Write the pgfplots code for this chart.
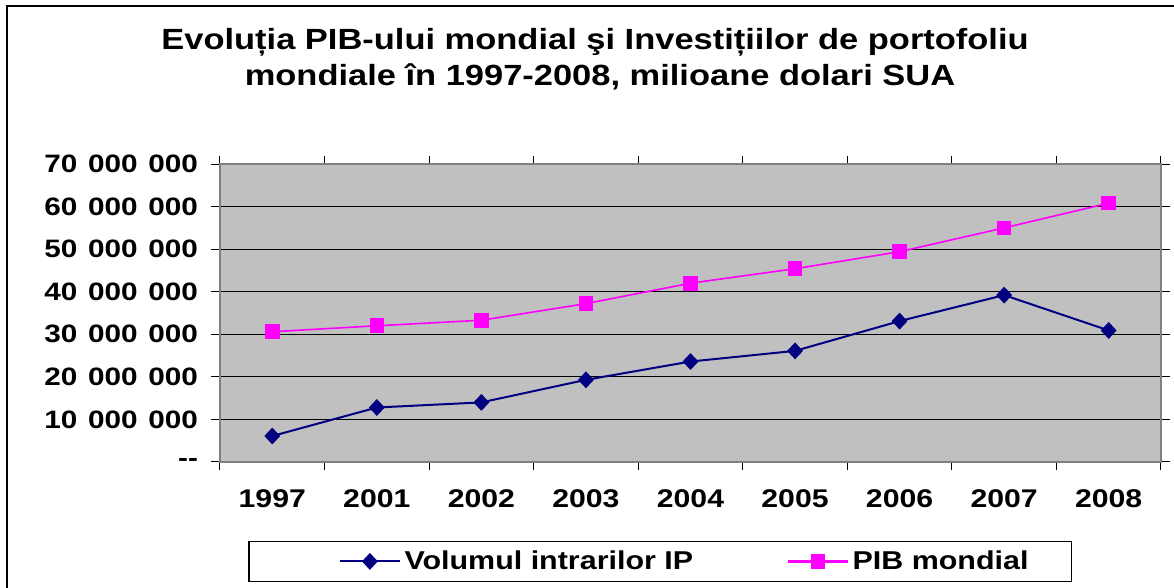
\documentclass[border=0pt]{standalone}
\usepackage{fontspec}
\setmainfont{Liberation Sans}[FakeStretch=1.18]
\usepackage{pgfplots}
\pgfplotsset{compat=1.18}
\definecolor{plotbg}{HTML}{C0C0C0}
\definecolor{ipnavy}{HTML}{000080}
\definecolor{pibmag}{HTML}{FF00FF}
\definecolor{axgray}{HTML}{808080}
\newcommand{\gs}{\hspace{0.42em}}
\begin{document}
\begin{tikzpicture}
\useasboundingbox (0,0) rectangle (587pt,294pt);
\draw[line width=1pt] (3.5pt,-20pt) -- (3.5pt,291pt) -- (620pt,291pt);
\node[anchor=base,font=\bfseries\fontsize{14.6}{17}\selectfont,inner sep=0pt] at (297.5pt,269.3pt) {Evoluția PIB-ului mondial şi Investițiilor de portofoliu};
\node[anchor=base,font=\bfseries\fontsize{14.6}{17}\selectfont,inner sep=0pt] at (300pt,251pt) {mondiale în 1997-2008, milioane dolari SUA};
\begin{axis}[
  at={(110pt,63pt)}, anchor=south west,
  scale only axis, width=470.5pt, height=149pt,
  xmin=-0.5, xmax=8.5, ymin=0, ymax=70000000,
  axis background/.style={fill=plotbg},
  axis line style={draw=axgray, line width=1pt},
  xtick={0,1,2,3,4,5,6,7,8},
  xticklabels={1997,2001,2002,2003,2004,2005,2006,2007,2008},
  minor xtick={-0.5,0.5,1.5,2.5,3.5,4.5,5.5,6.5,7.5,8.5},
  major x tick style={draw=none},
  minor x tick style={draw=black, line width=0.5pt},
  minor tick length=4pt,
  ytick={0,10000000,20000000,30000000,40000000,50000000,60000000,70000000},
  yticklabels={{-}{-},10\gs000\gs000,20\gs000\gs000,30\gs000\gs000,40\gs000\gs000,50\gs000\gs000,60\gs000\gs000,70\gs000\gs000},
  ytick style={draw=black, line width=0.5pt},
  major tick length=4.5pt,
  tick align=outside,
  ymajorgrids,
  grid style={black, line width=0.5pt},
  scaled y ticks=false,
  /pgf/number format/assume math mode=true,
  yticklabel style={font=\bfseries\fontsize{12.6}{14}\selectfont, xshift=-3pt},
  xticklabel style={font=\bfseries\fontsize{12.8}{15}\selectfont, yshift=-6pt},
  legend columns=2,
  legend style={at={(0.4676,-0.265)}, anchor=north, draw=black, line width=0.6pt,
    inner xsep=19.5pt, inner ysep=3.5pt,
    font=\bfseries\fontsize{12.9}{15}\selectfont,
    nodes={inner xsep=1.8pt, inner ysep=1pt},
    /tikz/every even column/.append style={column sep=45pt}},
]
\addplot[color=ipnavy, line width=1pt, mark=diamond*, mark size=3.5pt,
  mark options={xscale=1.25, fill=ipnavy, draw=ipnavy},
  legend image code/.code={\path (-25.5pt,0pt);
    \draw[draw=ipnavy, line width=1pt] (0pt,0pt) -- (30pt,0pt);
    \draw[draw=ipnavy, fill=ipnavy, mark options={xscale=1.25, fill=ipnavy, draw=ipnavy}] plot[mark=diamond*, mark size=3.5pt] coordinates {(15pt,0pt)};}]
  coordinates {(0,6100000) (1,12800000) (2,14000000) (3,19300000) (4,23600000)
               (5,26100000) (6,33100000) (7,39200000) (8,30900000)};
\addlegendentry{Volumul intrarilor IP}
\addplot[color=pibmag, line width=0.8pt, mark=square*, mark size=3.25pt,
  mark options={fill=pibmag, draw=pibmag},
  legend image code/.code={
    \draw[draw=pibmag, line width=1.1pt] (0pt,0pt) -- (30pt,0pt);
    \draw[draw=pibmag, fill=pibmag] plot[mark=square*, mark size=3.25pt] coordinates {(15pt,0pt)};}]
  coordinates {(0,30600000) (1,32000000) (2,33300000) (3,37200000) (4,42000000)
               (5,45400000) (6,49400000) (7,55000000) (8,60800000)};
\addlegendentry{PIB mondial}
\end{axis}
\end{tikzpicture}
\end{document}
